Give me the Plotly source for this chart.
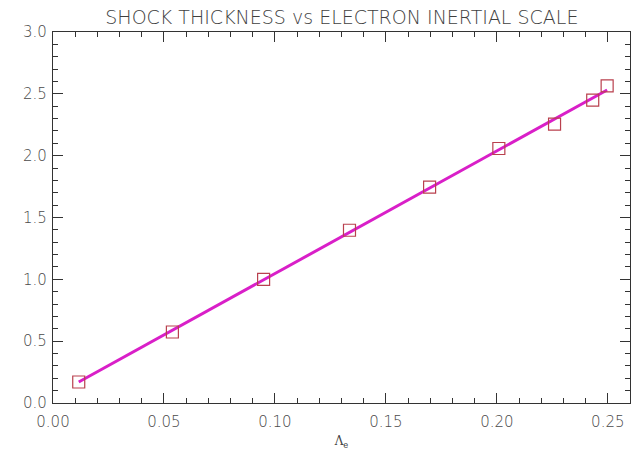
import numpy as np
import plotly.graph_objects as go

# Electron inertial scale (Lambda_e) and measured shock thickness
lambda_e = [0.0116, 0.0538, 0.0949, 0.1336, 0.1697, 0.2009, 0.2260, 0.2432, 0.2497]
thickness = [0.17, 0.574, 1.00, 1.397, 1.745, 2.058, 2.255, 2.449, 2.565]

# Linear least-squares fit over the measured range
slope, intercept = np.polyfit(lambda_e, thickness, 1)
fit_x = [min(lambda_e), max(lambda_e)]
fit_y = [intercept + slope * v for v in fit_x]

fig = go.Figure()
fig.add_trace(go.Scatter(
    x=fit_x, y=fit_y, mode="lines",
    line=dict(color="#d91fc8", width=3),
    showlegend=False,
))
fig.add_trace(go.Scatter(
    x=lambda_e, y=thickness, mode="markers",
    marker=dict(symbol="square-open", size=12, color="#b9404e",
                line=dict(width=1.2, color="#b9404e")),
    showlegend=False,
))

tick_font = dict(family="DejaVu Sans", size=15, color="#4a4a4a", weight=200)
axis_common = dict(
    showgrid=False, zeroline=False, showline=True, linecolor="#333333",
    linewidth=1.3, mirror="ticks", ticks="inside", ticklen=10,
    tickwidth=1, tickcolor="#333333", tickfont=tick_font,
)

fig.update_layout(
    width=639, height=455,
    margin=dict(l=53, r=9, t=32, b=52),
    paper_bgcolor="white", plot_bgcolor="white",
    title=dict(text="SHOCK THICKNESS vs ELECTRON INERTIAL SCALE",
               x=0.535, xanchor="center", y=0.962, yanchor="middle",
               font=dict(family="DejaVu Sans", size=19, color="#3f3f3f", weight=200)),
    xaxis=dict(range=[0, 0.26], dtick=0.05, tick0=0, tickformat=".2f",
               ticklabelstandoff=5,
               minor=dict(dtick=0.01, ticks="inside", ticklen=5,
                          tickcolor="#333333", showgrid=False),
               title=dict(text="Λ<sub>e</sub>", standoff=6,
                          font=dict(family="DejaVu Serif", size=12, color="#444444")),
               **axis_common),
    yaxis=dict(range=[0, 3.0], dtick=0.5, tick0=0, tickformat=".1f",
               ticklabelstandoff=2,
               minor=dict(dtick=0.1, ticks="inside", ticklen=5,
                          tickcolor="#333333", showgrid=False),
               **axis_common),
)

fig.write_html("out.html")
